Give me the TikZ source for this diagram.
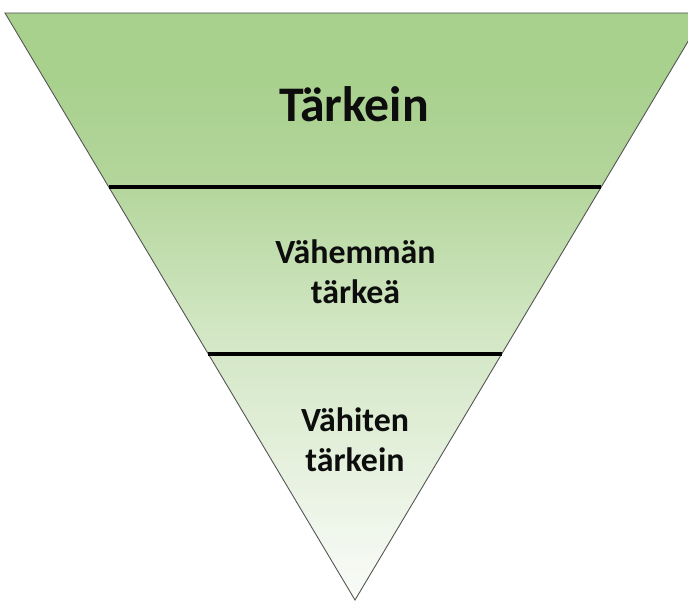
\documentclass[tikz,border=0pt]{standalone}
\usepackage{fontspec}
\setmainfont{Carlito}
\usetikzlibrary{calc}

\definecolor{fTop}{HTML}{A9D18E}
\definecolor{fUpA}{HTML}{B3D59B}
\definecolor{fUpB}{HTML}{B7D8A0}
\definecolor{fMidA}{HTML}{D3E7C5}
\definecolor{fMidB}{HTML}{D7E9CB}
\definecolor{fLow}{HTML}{F5F9F2}
\definecolor{fEnd}{HTML}{F8FBF6}
\definecolor{edge}{HTML}{555555}
\definecolor{ink}{HTML}{0D0D0D}

% Vertical green-to-white fill of the funnel (positions measured from the bottom)
\pgfdeclareverticalshading{funnelfill}{100bp}{%
  color(0bp)=(fEnd); color(25bp)=(fEnd); color(28bp)=(fLow);
  color(44.5bp)=(fMidB); color(47.5bp)=(fMidA); color(59bp)=(fUpB);
  color(61bp)=(fUpA); color(69bp)=(fTop); color(100bp)=(fTop)}

\begin{document}
\begin{tikzpicture}[x=1bp,y=-1bp,
  funnel/.style={shading=funnelfill, draw=edge, line width=0.9bp, line join=miter},
  divider/.style={draw=black, line width=3.5bp},
  biglabel/.style={font=\bfseries\fontsize{50}{56}\selectfont, text=ink, anchor=base},
  label/.style={font=\bfseries\fontsize{34}{40}\selectfont, text=ink, align=center}]
  \useasboundingbox (0,0) rectangle (688,603);
  \clip (0,0) rectangle (688,603);

  % corners of the inverted triangle
  \coordinate (tl) at (5,13);
  \coordinate (tr) at (705,13);
  \coordinate (ap) at (355,600);

  \shade[funnel] (tl) -- (tr) -- (ap) -- cycle;

  % band boundaries
  \coordinate (d1l) at ($(tl)!0.2964!(ap)$);
  \coordinate (d1r) at ($(tr)!0.2964!(ap)$);
  \coordinate (d2l) at ($(tl)!0.5809!(ap)$);
  \coordinate (d2r) at ($(tr)!0.5809!(ap)$);
  \draw[divider] (d1l) -- (d1r);
  \draw[divider] (d2l) -- (d2r);

  \node[biglabel] (top) at (354,122) {Tärkein};
  \node[label] (mid) at (355.5,272) {Vähemmän\\tärkeä};
  \node[label] (low) at (355,440) {Vähiten\\tärkein};
\end{tikzpicture}
\end{document}
